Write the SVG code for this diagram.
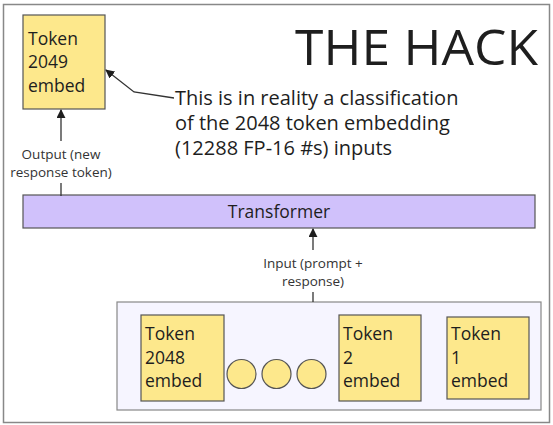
<svg xmlns="http://www.w3.org/2000/svg" width="553" height="425" viewBox="0 0 553 425">
<defs>
<style>
text{font-family:"Open Sans","Liberation Sans",sans-serif;fill:#1e1e1e}
.tok{fill:#fde88c;stroke:#555;stroke-width:1.2}
.tt{font-size:17.5px}
.lbl{font-size:13.5px;fill:#333;text-anchor:middle}
.ln{fill:none;stroke:#333;stroke-width:1.3}
</style>
<marker id="ah" viewBox="0 0 10 10" refX="9" refY="5" markerWidth="9" markerHeight="9" orient="auto-start-reverse" markerUnits="userSpaceOnUse">
<path d="M0,0L10,5L0,10z" fill="#1e1e1e"/>
</marker>
</defs>
<rect x="0" y="0" width="553" height="425" fill="#fff"/>
<rect id="frame" x="3.5" y="4.5" width="546" height="418" fill="#fff" stroke="#888" stroke-width="1.5"/>
<g id="title"><text x="295" y="65" font-size="50" textLength="243" lengthAdjust="spacingAndGlyphs">THE HACK</text></g>
<g id="token2049">
<rect class="tok" x="23" y="15" width="82" height="94"/>
<text class="tt" x="28" y="45">Token</text>
<text class="tt" x="28" y="68">2049</text>
<text class="tt" x="28" y="92">embed</text>
</g>
<g id="note">
<text x="175" y="105" font-size="20">This is in reality a classification</text>
<text x="175" y="130" font-size="20">of the 2048 token embedding</text>
<text x="175" y="155" font-size="20">(12288 FP-16 #s) inputs</text>
</g>
<g id="transformer">
<rect x="23" y="195" width="512" height="33" fill="#d0c1fb" stroke="#555" stroke-width="1.2"/>
<text x="279" y="218" font-size="17.5" text-anchor="middle">Transformer</text>
</g>
<g id="inputs">
<rect x="117" y="302" width="424" height="108" fill="#f6f5ff" stroke="#888" stroke-width="1.2"/>
<g id="token2048">
<rect class="tok" x="141" y="315" width="83" height="86"/>
<text class="tt" x="145" y="340">Token</text>
<text class="tt" x="145" y="364">2048</text>
<text class="tt" x="145" y="387">embed</text>
</g>
<g id="dots">
<circle class="tok" cx="241.5" cy="374" r="14.5" stroke="#444"/>
<circle class="tok" cx="276.5" cy="374" r="14.5" stroke="#444"/>
<circle class="tok" cx="311.5" cy="374" r="14.5" stroke="#444"/>
</g>
<g id="token2">
<rect class="tok" x="339" y="315" width="82" height="86"/>
<text class="tt" x="343" y="340">Token</text>
<text class="tt" x="343" y="364">2</text>
<text class="tt" x="343" y="387">embed</text>
</g>
<g id="token1">
<rect class="tok" x="447" y="317" width="82" height="82"/>
<text class="tt" x="451" y="340">Token</text>
<text class="tt" x="451" y="364">1</text>
<text class="tt" x="451" y="387">embed</text>
</g>
</g>
<g id="connectors">
<line class="ln" x1="61" y1="196" x2="61" y2="183"/>
<line class="ln" x1="61" y1="141" x2="61" y2="110" marker-end="url(#ah)"/>
<text class="lbl" x="61" y="159">Output (new</text>
<text class="lbl" x="61" y="177">response token)</text>
<line class="ln" x1="313" y1="302" x2="313" y2="292"/>
<line class="ln" x1="313" y1="250" x2="313" y2="229" marker-end="url(#ah)"/>
<text class="lbl" x="313" y="268">Input (prompt +</text>
<text class="lbl" x="313" y="286">response)</text>
<polyline class="ln" points="174,98 134,92 106,70" marker-end="url(#ah)"/>
</g>
</svg>
